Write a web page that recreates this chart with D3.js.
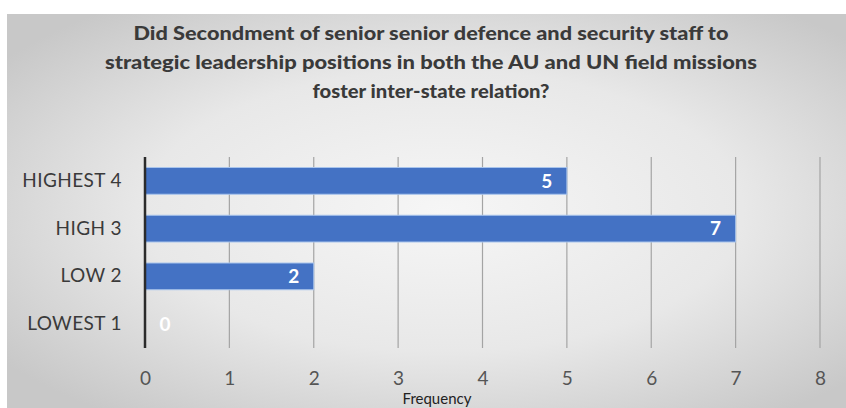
<!DOCTYPE html>
<html><head><meta charset="utf-8">
<script src="https://cdn.jsdelivr.net/npm/d3@7"></script>
<style>body{margin:0;background:#fff}svg{display:block}</style>
</head><body>
<svg id="c" width="846" height="408"></svg>
<script>
const titleLines = [
  "Did Secondment of senior senior defence and security staff to",
  "strategic leadership positions in both the AU and UN field missions",
  "foster inter-state relation?"
];
const categories = ["HIGHEST 4", "HIGH 3", "LOW 2", "LOWEST 1"];
const values = [5, 7, 2, 0];
const xTicks = [0, 1, 2, 3, 4, 5, 6, 7, 8];
const xTitle = "Frequency";

const svg = d3.select("#c");
const font = "Lato, Carlito, 'Open Sans', sans-serif";

const defs = svg.append("defs");
const g = defs.append("radialGradient").attr("id", "bg").attr("cx", "52%").attr("cy", "50%").attr("r", "65%");
g.append("stop").attr("offset", "0%").attr("stop-color", "#f6f6f6");
g.append("stop").attr("offset", "55%").attr("stop-color", "#e8e8e8");
g.append("stop").attr("offset", "100%").attr("stop-color", "#c8c8c8");
svg.append("rect").attr("x", 7).attr("y", 14).attr("width", 839).attr("height", 394).attr("fill", "url(#bg)");

const x = d3.scaleLinear().domain([0, 8]).range([145, 820]);
const y = d3.scaleBand().domain(categories).range([157, 348]).paddingInner(0.44).paddingOuter(0.22);

// gridlines
svg.append("g").selectAll("line").data(xTicks.filter(d => d > 0)).join("line")
  .attr("x1", d => x(d)).attr("x2", d => x(d)).attr("y1", 157).attr("y2", 348)
  .attr("stroke", "#a4a4a4").attr("stroke-width", 1.2);

// bars
svg.append("g").selectAll("rect").data(values).join("rect")
  .attr("x", x(0)).attr("y", (d, i) => y(categories[i]))
  .attr("width", d => x(d) - x(0)).attr("height", y.bandwidth())
  .attr("fill", "#4472c4").attr("stroke", "#a8c4ec").attr("stroke-width", 1)
  .style("display", d => d > 0 ? null : "none");

// axis line
svg.append("line").attr("x1", x(0)).attr("x2", x(0)).attr("y1", 157).attr("y2", 348)
  .attr("stroke", "#2b2b2b").attr("stroke-width", 2.5);

// value labels
svg.append("g").selectAll("text").data(values).join("text")
  .attr("x", d => Math.max(x(d) - 20, x(0) + 20))
  .attr("y", (d, i) => y(categories[i]) + y.bandwidth() / 2)
  .attr("dy", "0.36em").attr("text-anchor", "middle")
  .attr("font-family", font).attr("font-weight", "bold").attr("font-size", 19)
  .attr("fill", "#ffffff").text(d => d);

// y axis labels
const yAxis = d3.axisLeft(y).tickSize(0).tickPadding(0);
const ya = svg.append("g").attr("transform", "translate(122,0)").call(yAxis);
ya.select(".domain").remove();
ya.selectAll("text").attr("font-family", font).attr("font-size", 19).attr("letter-spacing", 0.4)
  .attr("fill", "#3a3a3a");

// x axis labels
const xAxis = d3.axisBottom(x).tickValues(xTicks).tickSize(0).tickPadding(0).tickFormat(d3.format("d"));
const xa = svg.append("g").attr("transform", "translate(0,371)").call(xAxis);
xa.select(".domain").remove();
xa.selectAll("text").attr("font-family", font).attr("font-size", 19).attr("fill", "#555555");

svg.append("text").attr("x", 437).attr("y", 404).attr("text-anchor", "middle")
  .attr("font-family", font).attr("font-size", 15).attr("fill", "#222").text(xTitle);

// title
const tWidths = [595, 652, 237];
svg.append("g").selectAll("text").data(titleLines).join("text")
  .attr("x", 431).attr("y", (d, i) => 40 + i * 29)
  .attr("text-anchor", "middle").attr("font-family", font).attr("font-weight", "900")
  .attr("font-size", 19).attr("fill", "#3a3a3a")
  .attr("textLength", (d, i) => tWidths[i]).attr("lengthAdjust", "spacingAndGlyphs")
  .text(d => d);
</script>
</body></html>
